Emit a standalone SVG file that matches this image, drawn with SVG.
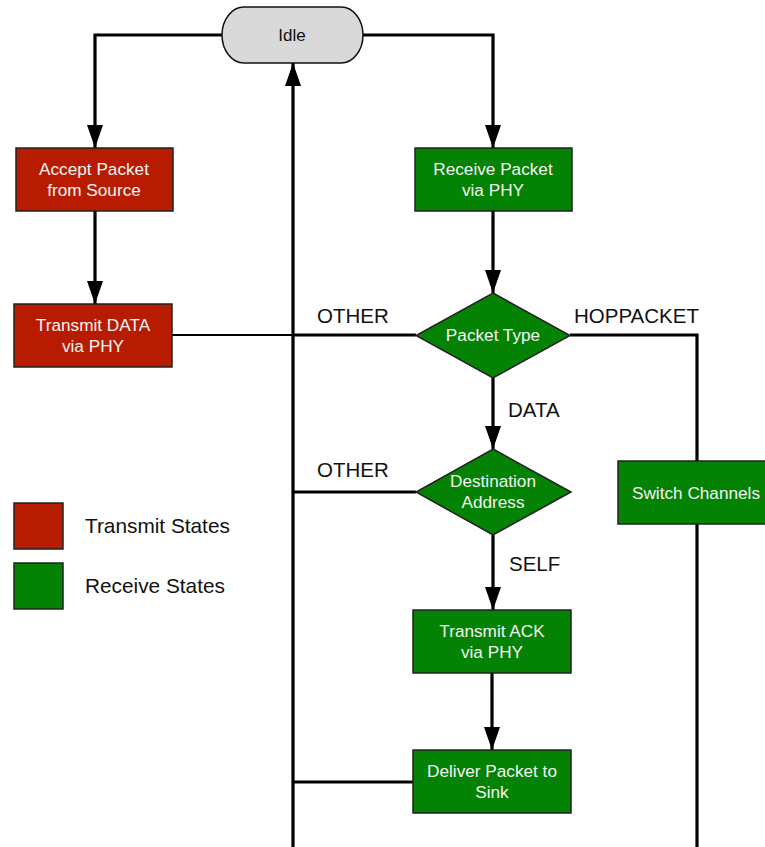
<svg xmlns="http://www.w3.org/2000/svg" width="765" height="847" viewBox="0 0 765 847">
<style>
  text { font-family: "Liberation Sans", Arial, Helvetica, sans-serif; }
  .tx { fill: #b81c00; stroke: #222; stroke-width: 1.5; }
  .rx { fill: #038203; stroke: #222; stroke-width: 1.5; }
  .nt { font-size: 17.2px; fill: #f4f4f4; text-anchor: middle; }
  .lbl { font-size: 20.5px; fill: #111; }
  .leg { font-size: 20.8px; fill: #111; }
  .c { fill: none; stroke: #000; stroke-width: 3.2; stroke-linejoin: miter; }
  .thin { stroke-width: 2.2; }
</style>
<defs>
  <marker id="arr" markerUnits="userSpaceOnUse" markerWidth="24" markerHeight="17" refX="23" refY="8" orient="auto">
    <path d="M0,0 L23,8 L0,16 z" fill="#000"/>
  </marker>
</defs>
<g id="connectors">
  <path class="c" d="M222,35 H95 V148" marker-end="url(#arr)"/>
  <path class="c" d="M363,35 H493 V148" marker-end="url(#arr)"/>
  <path class="c" d="M95,211 V304" marker-end="url(#arr)"/>
  <path class="c" d="M493,211 V293" marker-end="url(#arr)"/>
  <path class="c" d="M493,378 V449" marker-end="url(#arr)"/>
  <path class="c" d="M493,535 V610" marker-end="url(#arr)"/>
  <path class="c" d="M492,673 V750" marker-end="url(#arr)"/>
  <path class="c thin" d="M172,335 H293"/>
  <path class="c" d="M416,335 H293"/>
  <path class="c" d="M416,492 H293"/>
  <path class="c" d="M413,782 H293"/>
  <path class="c" d="M570,335 H697 V461"/>
  <path class="c" d="M697,524 V848.6 H293 V63" marker-end="url(#arr)"/>
</g>
<g id="labels">
  <text class="lbl" x="317" y="323">OTHER</text>
  <text class="lbl" x="574" y="323">HOPPACKET</text>
  <text class="lbl" x="508" y="417">DATA</text>
  <text class="lbl" x="317" y="477">OTHER</text>
  <text class="lbl" x="509" y="571">SELF</text>
</g>
<g id="idle">
  <rect x="222" y="7" width="141" height="56" rx="22" ry="28" fill="#d9d9d9" stroke="#111" stroke-width="1.5"/>
  <text x="292" y="41" font-size="17" fill="#111" text-anchor="middle">Idle</text>
</g>
<g id="accept">
  <rect class="tx" x="16" y="148" width="157" height="63"/>
  <text class="nt" x="94" y="175">Accept Packet</text>
  <text class="nt" x="94" y="196">from Source</text>
</g>
<g id="transmit-data">
  <rect class="tx" x="14" y="304" width="158" height="63"/>
  <text class="nt" x="93" y="331">Transmit DATA</text>
  <text class="nt" x="93" y="352">via PHY</text>
</g>
<g id="receive">
  <rect class="rx" x="415" y="148" width="157" height="63"/>
  <text class="nt" x="493" y="175">Receive Packet</text>
  <text class="nt" x="493" y="196">via PHY</text>
</g>
<g id="packet-type">
  <polygon class="rx" points="493,293 570,335.5 493,378 416,335.5"/>
  <text class="nt" x="493" y="341">Packet Type</text>
</g>
<g id="destination">
  <polygon class="rx" points="493,449 571,492 493,535 416,492"/>
  <text class="nt" x="493" y="487">Destination</text>
  <text class="nt" x="493" y="508">Address</text>
</g>
<g id="switch">
  <rect class="rx" x="618" y="461" width="158" height="63"/>
  <text class="nt" x="696" y="499">Switch Channels</text>
</g>
<g id="transmit-ack">
  <rect class="rx" x="413" y="610" width="158" height="63"/>
  <text class="nt" x="492" y="637">Transmit ACK</text>
  <text class="nt" x="492" y="658">via PHY</text>
</g>
<g id="deliver">
  <rect class="rx" x="413" y="750" width="158" height="63"/>
  <text class="nt" x="492" y="777">Deliver Packet to</text>
  <text class="nt" x="492" y="798">Sink</text>
</g>
<g id="legend">
  <rect class="tx" x="14" y="503" width="49" height="46"/>
  <rect class="rx" x="14" y="563" width="49" height="46"/>
  <text class="leg" x="85" y="533">Transmit States</text>
  <text class="leg" x="85" y="593">Receive States</text>
</g>
</svg>
